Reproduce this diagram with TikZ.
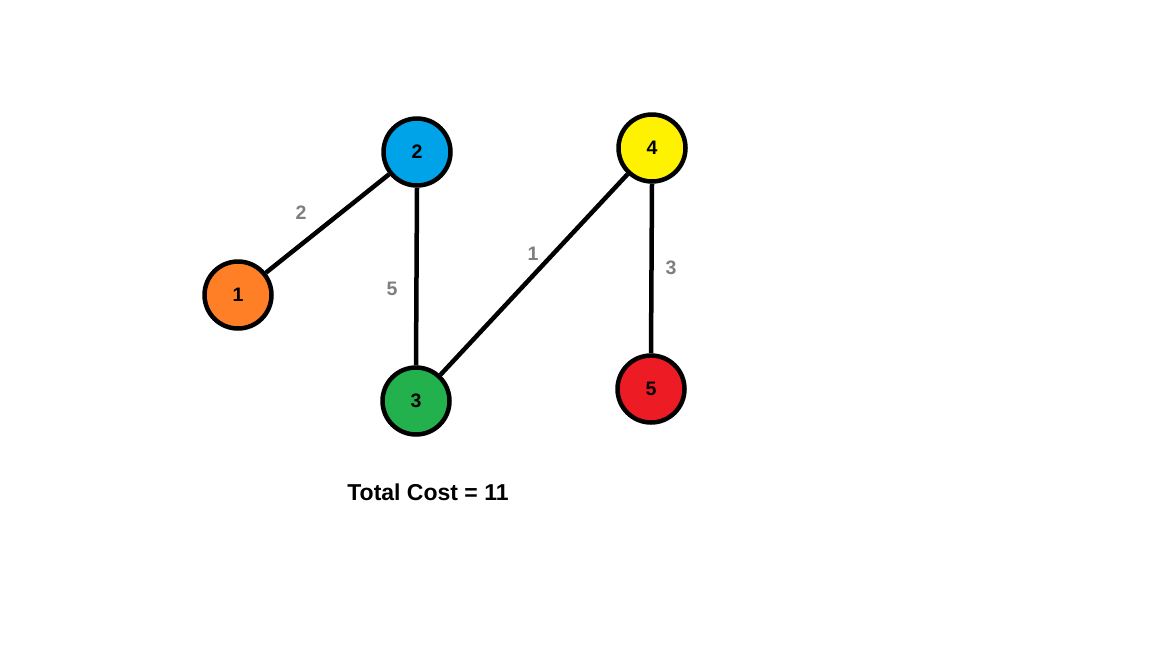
\documentclass[tikz,border=0pt]{standalone}
\usepackage{fontspec}
\setmainfont{Liberation Sans}
\definecolor{c1}{RGB}{255,127,39}
\definecolor{c2}{RGB}{0,162,232}
\definecolor{c3}{RGB}{34,177,76}
\definecolor{c4}{RGB}{255,242,0}
\definecolor{c5}{RGB}{237,28,36}
\definecolor{wgray}{RGB}{127,127,127}
\begin{document}
\begin{tikzpicture}[x=1pt,y=-1pt,
  vert/.style={circle,draw=black,line width=4.5pt,minimum size=67pt,inner sep=0pt,font=\fontsize{19.5}{19.5}\selectfont\bfseries},
  edge/.style={line width=4.5pt,draw=black},
  wlabel/.style={text=wgray,font=\fontsize{19.5}{19.5}\selectfont\bfseries}]
\useasboundingbox (0,0) rectangle (1153,648);
\fill[white] (0,0) rectangle (1153,648);
\node[vert,fill=c1] (n1) at (238,295) {1};
\node[vert,fill=c2] (n2) at (417,152) {2};
\node[vert,fill=c3] (n3) at (416,401) {3};
\node[vert,fill=c4] (n4) at (652,148) {4};
\node[vert,fill=c5] (n5) at (651,389) {5};
\draw[edge] (n1) -- (n2);
\draw[edge] (n2.south) -- (n3.north);
\draw[edge] (n3) -- (n4);
\draw[edge] (n4.south) -- (n5.north);
\node[wlabel] (l12) at (301,213) {2};
\node[wlabel] (l23) at (392,289) {5};
\node[wlabel] (l34) at (533,254) {1};
\node[wlabel] (l45) at (671,268) {3};
\node[font=\fontsize{23}{23}\selectfont\bfseries] (total) at (428,492) {Total Cost = 11};
\end{tikzpicture}
\end{document}
